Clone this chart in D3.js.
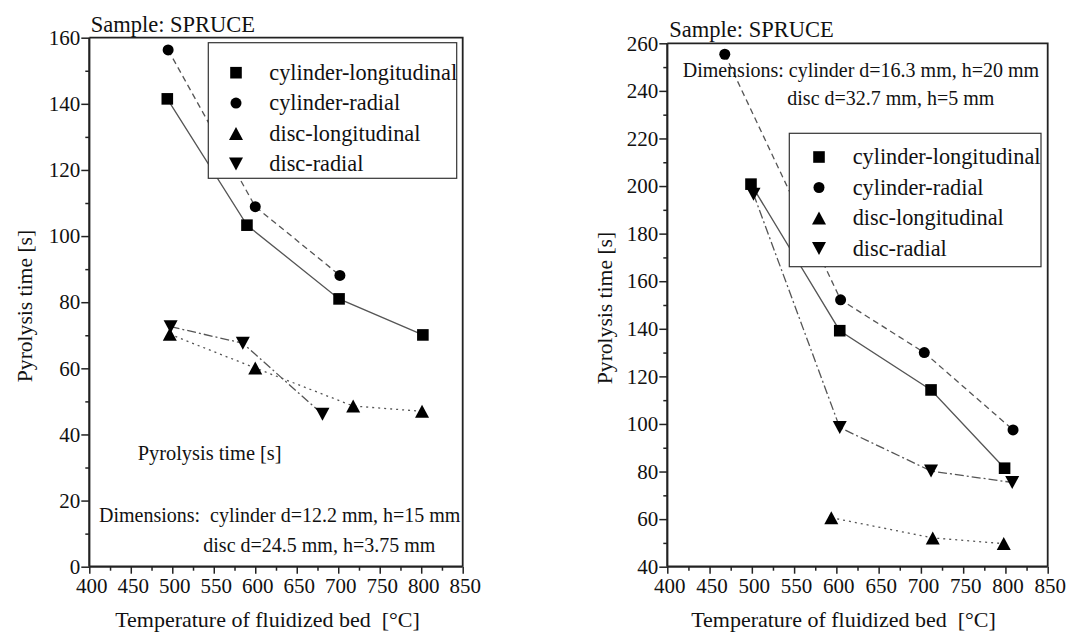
<!DOCTYPE html>
<html><head><meta charset="utf-8">
<script src="https://cdn.jsdelivr.net/npm/d3@7"></script>
<style>
body{margin:0;background:#fff}
svg{display:block}
text{font-family:"Liberation Serif","Times New Roman",serif;fill:#111}
</style>
</head><body>
<svg id="c" width="1067" height="633"></svg>
<script>
// ---------- data ----------
const seriesNames = ["cylinder-longitudinal", "cylinder-radial", "disc-longitudinal", "disc-radial"];
const xTicks = [400, 450, 500, 550, 600, 650, 700, 750, 800, 850];
const leftYTicks = [0, 20, 40, 60, 80, 100, 120, 140, 160];
const rightYTicks = [40, 60, 80, 100, 120, 140, 160, 180, 200, 220, 240, 260];

// left panel (small samples)
const leftCylLongT = [494, 590, 701, 802];
const leftCylLongV = [141.5, 103.3, 81, 70.1];
const leftCylRadT = [495, 600, 702];
const leftCylRadV = [156.3, 108.9, 88.1];
const leftDiscLongT = [497, 600, 718, 801];
const leftDiscLongV = [70.3, 60.1, 48.6, 47];
const leftDiscRadT = [498, 585, 681];
const leftDiscRadV = [72.6, 67.6, 46.1];

// right panel (large samples)
const rightCylLongT = [499, 604, 712, 799];
const rightCylLongV = [200.8, 139.2, 114.3, 81.4];
const rightCylRadT = [468, 605, 704, 809];
const rightCylRadV = [255.4, 152.2, 130, 97.5];
const rightDiscLongT = [594, 714, 798];
const rightDiscLongV = [60.6, 52.1, 49.7];
const rightDiscRadT = [502, 604, 712, 808];
const rightDiscRadV = [196.6, 98.5, 80.2, 75.4];

// ---------- drawing ----------
const svg = d3.select("#c");
const FS_TICK = 21, FS_LEG = 22.3, FS_TITLE = 22, FS_YT = 21.6, FS_SAMPLE = 22.5, FS_NOTE = 20;
const lineStyles = [null, "6,4", "2,4", "9,3,2,3"];

function markerPath(k) {
  if (k === 0) return "M-5.8,-5.8H5.8V5.8H-5.8Z";
  if (k === 1) return d3.symbol(d3.symbolCircle, 95)();
  if (k === 2) return "M0,-6.5L7,6.5L-7,6.5Z";
  return "M0,6.5L7,-6.5L-7,-6.5Z";
}

function panel(cfg) {
  const g = svg.append("g");
  const x = d3.scaleLinear().domain([400, 850]).range(cfg.xr);
  const y = d3.scaleLinear().domain(cfg.yd).range(cfg.yr);

  // lines
  cfg.series.forEach((s, k) => {
    const pts = s.t.map((t, i) => [x(t), y(s.v[i])]);
    g.append("path").attr("d", d3.line()(pts))
      .attr("fill", "none").attr("stroke", "#555").attr("stroke-width", 1.3)
      .attr("stroke-dasharray", lineStyles[k]);
  });
  // markers
  cfg.series.forEach((s, k) => {
    g.selectAll(null).data(s.t).enter().append("path")
      .attr("d", markerPath(k))
      .attr("transform", (t, i) => `translate(${x(t)},${y(s.v[i])})`)
      .attr("fill", "#000");
  });

  // legend
  const L = cfg.legend;
  g.append("rect").attr("x", L.x).attr("y", L.y).attr("width", L.w).attr("height", L.h)
    .attr("fill", "#fff").attr("stroke", "#333").attr("stroke-width", 1.2);
  seriesNames.forEach((n, k) => {
    const yy = L.row0 + k * L.dy;
    g.append("path").attr("d", markerPath(k)).attr("transform", `translate(${L.mx},${yy})`).attr("fill", "#000");
    g.append("text").attr("x", L.tx).attr("y", yy).attr("dy", "0.33em")
      .attr("font-size", FS_LEG).text(n);
  });

  // frame
  const [x0, x1] = cfg.xr, [yb, yt] = cfg.yr;
  g.append("path").attr("d", `M${x0},${yt}H${x1}V${yb}`).attr("fill", "none")
    .attr("stroke", "#222").attr("stroke-width", 1.8);

  // axes
  const yMinor = [];
  for (let v = cfg.yd[0]; v <= cfg.yd[1]; v += 10) if (v % 20 !== 0) yMinor.push(v);
  const xMinor = [];
  for (let v = 425; v < 850; v += 50) xMinor.push(v);

  const ya = g.append("g").attr("transform", `translate(${x0},0)`)
    .call(d3.axisLeft(y).tickValues(cfg.yTicks).tickSize(8).tickPadding(1).tickFormat(d3.format("d")));
  g.append("g").attr("transform", `translate(${x0},0)`)
    .call(d3.axisLeft(y).tickValues(yMinor).tickSize(4).tickFormat(""))
    .select(".domain").remove();
  const xa = g.append("g").attr("transform", `translate(0,${yb})`)
    .call(d3.axisBottom(x).tickValues(xTicks).tickSize(7).tickPadding(4).tickFormat(d3.format("d")));
  g.append("g").attr("transform", `translate(0,${yb})`)
    .call(d3.axisBottom(x).tickValues(xMinor).tickSize(4).tickFormat(""))
    .select(".domain").remove();
  g.selectAll(".tick text").attr("font-size", FS_TICK).attr("font-family", '"Liberation Serif","Times New Roman",serif').attr("fill", "#111");
  xa.selectAll(".tick text").attr("dx", 2);
  g.selectAll(".tick line").attr("stroke", "#222").attr("stroke-width", 1.5);
  ya.select(".domain").attr("stroke", "#222").attr("stroke-width", 2.2).attr("d", `M0,${yt}V${yb}`);
  xa.select(".domain").attr("stroke", "#222").attr("stroke-width", 2.2).attr("d", `M${x0},0H${x1}`);

  // axis titles
  g.append("text").attr("x", cfg.xtx).attr("y", 627).attr("text-anchor", "middle")
    .attr("font-size", FS_TITLE).style("white-space", "pre").text("Temperature of fluidized bed\u00a0 [°C]");
  g.append("text").attr("transform", `translate(${cfg.ytx},${cfg.yty}) rotate(-90)`).attr("text-anchor", "middle")
    .attr("font-size", FS_YT).text("Pyrolysis time [s]");

  // annotations
  cfg.notes.forEach(n => {
    g.append("text").attr("x", n[0]).attr("y", n[1]).attr("font-size", n[3])
      .style("white-space", "pre").text(n[2]);
  });
}

panel({
  xr: [89.3, 462.7], yd: [0, 160], yr: [566.7, 37.7], yTicks: leftYTicks,
  series: [
    {t: leftCylLongT, v: leftCylLongV},
    {t: leftCylRadT, v: leftCylRadV},
    {t: leftDiscLongT, v: leftDiscLongV},
    {t: leftDiscRadT, v: leftDiscRadV}
  ],
  legend: {x: 208.3, y: 42.7, w: 248.4, h: 135.6, mx: 236, tx: 269.3, row0: 72.7, dy: 30.4},
  xtx: 267.5, ytx: 31.7, yty: 306,
  notes: [
    [90.7, 31.7, "Sample: SPRUCE", FS_SAMPLE],
    [137.7, 460, "Pyrolysis time [s]", 20.4],
    [99, 521.7, "Dimensions:\u00a0 cylinder d=12.2 mm, h=15 mm", FS_NOTE],
    [203.3, 552.3, "disc d=24.5 mm, h=3.75 mm", FS_NOTE]
  ]
});

panel({
  xr: [667.3, 1047.7], yd: [40, 260], yr: [566.7, 43.3], yTicks: rightYTicks,
  series: [
    {t: rightCylLongT, v: rightCylLongV},
    {t: rightCylRadT, v: rightCylRadV},
    {t: rightDiscLongT, v: rightDiscLongV},
    {t: rightDiscRadT, v: rightDiscRadV}
  ],
  legend: {x: 789.3, y: 133.3, w: 251.7, h: 133.4, mx: 819, tx: 852.7, row0: 157, dy: 30.5},
  xtx: 843.5, ytx: 611.5, yty: 308,
  notes: [
    [669.3, 36.5, "Sample: SPRUCE", FS_SAMPLE],
    [682.7, 76.7, "Dimensions: cylinder d=16.3 mm, h=20 mm", FS_NOTE],
    [787.3, 105.3, "disc d=32.7 mm, h=5 mm", FS_NOTE]
  ]
});
</script>
</body></html>
